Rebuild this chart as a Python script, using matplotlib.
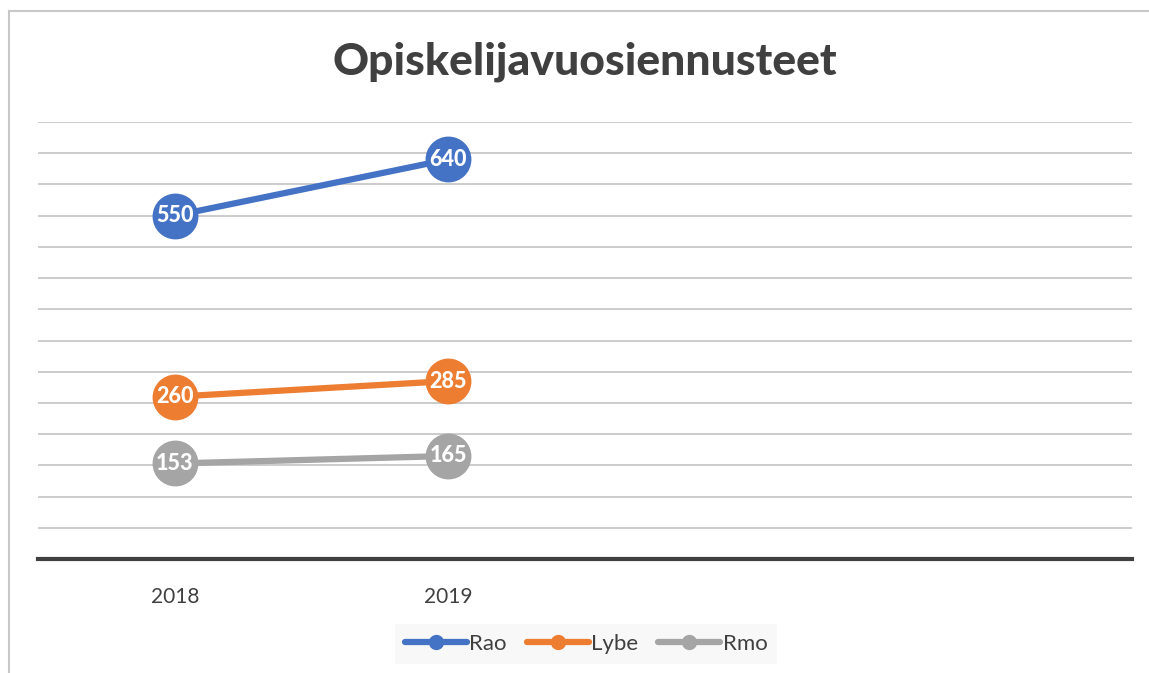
import matplotlib
matplotlib.use("Agg")
import matplotlib.pyplot as plt
from matplotlib.lines import Line2D

categories = ["2018", "2019", "", ""]
series_names = ["Rao", "Lybe", "Rmo"]
rao = [550, 640]
lybe = [260, 285]
rmo = [153, 165]
series_values = [rao, lybe, rmo]
colors = ["#4472C4", "#ED7D31", "#A5A5A5"]

plt.rcParams['font.family'] = ['Lato', 'DejaVu Sans']

W, H = 1149, 673
fig = plt.figure(figsize=(W / 100, H / 100), dpi=100)
left, right, bottom, top = 38, 1132, 559, 122
ax = fig.add_axes([left / W, 1 - bottom / H, (right - left) / W, (bottom - top) / H])

ax.set_xlim(-0.5, len(categories) - 0.5)
ax.set_ylim(0, 700)
ax.set_yticks(range(0, 701, 50))
ax.yaxis.grid(True, color="#c8c8c8", linewidth=1.3)
ax.set_axisbelow(True)
for s in ["left", "right", "top"]:
    ax.spines[s].set_visible(False)
ax.spines["bottom"].set_color("#404040")
ax.spines["bottom"].set_linewidth(3)
ax.spines["bottom"].set_zorder(5)
ax.tick_params(axis="y", left=False, labelleft=False)
ax.tick_params(axis="x", bottom=False, pad=17, labelsize=15, labelcolor="#404040")
ax.set_xticks(range(len(categories)))
ax.set_xticklabels(categories)

handles = []
for name, vals, c in zip(series_names, series_values, colors):
    xs = list(range(len(vals)))
    ax.plot(xs, vals, color=c, linewidth=4.5, marker="o", markersize=32,
            markerfacecolor=c, markeredgecolor=c, zorder=6, solid_capstyle="round")
    for x, v in zip(xs, vals):
        ax.text(x, v, str(v), ha="center", va="center", color="white",
                fontsize=15.5, fontweight="black", zorder=7)
    handles.append(Line2D([0], [0], color=c, linewidth=4.5, marker="o",
                          markersize=10, markerfacecolor=c, markeredgecolor=c,
                          solid_capstyle="round", label=name))

fig.text(585 / W, 1 - 62 / H, "Opiskelijavuosiennusteet", ha="center", va="center",
         fontsize=32, fontweight="black", color="#404040")

leg = fig.legend(handles=handles, loc="center", bbox_to_anchor=(586 / W, 1 - 644 / H),
                 ncol=3, frameon=True, fontsize=16, handlelength=2.8,
                 handletextpad=0.1, columnspacing=0.9, borderpad=0.45,
                 fancybox=False)
leg.get_frame().set_facecolor("#f7f7f7")
leg.get_frame().set_edgecolor("none")
for t in leg.get_texts():
    t.set_color("#404040")

# outer chart border (left and top visible)
fig.add_artist(Line2D([9 / W, 9 / W], [0, 1 - 11 / H], transform=fig.transFigure,
                      color="#c8c8c8", linewidth=1.5))
fig.add_artist(Line2D([9 / W, 1], [1 - 11 / H, 1 - 11 / H], transform=fig.transFigure,
                      color="#c8c8c8", linewidth=1.5))

fig.savefig("out.png", dpi=100)
